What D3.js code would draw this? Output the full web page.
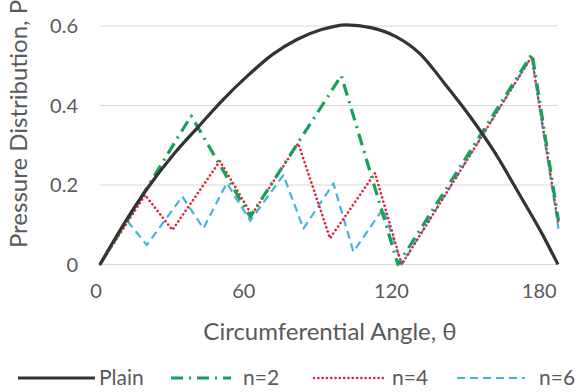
<!DOCTYPE html>
<html>
<head>
<meta charset="utf-8">
<script src="https://cdn.jsdelivr.net/npm/d3@7"></script>
<style>
  body { margin: 0; background: #fff; }
  text { font-family: Lato, "Open Sans", sans-serif; fill: #595959; }
</style>
</head>
<body>
<div class="chart"></div>
<script>
// values (angle in degrees, pressure)
var plainAngle = [0, 10, 20, 30, 40, 50, 60, 70, 80, 90, 100, 110, 120, 130, 140, 150, 160, 170, 180, 186];
var plainP     = [0, 0.105, 0.198, 0.278, 0.347, 0.415, 0.475, 0.528, 0.566, 0.591, 0.603, 0.596, 0.574, 0.53, 0.455, 0.375, 0.285, 0.18, 0.072, 0];

var n2Angle = [0, 37, 61, 98, 121, 175.5, 186.2];
var n2P     = [0, 0.374, 0.12, 0.475, 0, 0.53, 0.11];

var n4Angle = [0, 18.3, 29.4, 48.7, 61.6, 80.5, 93.4, 111.7, 122.5, 175.3, 186.2];
var n4P     = [0, 0.175, 0.087, 0.26, 0.125, 0.305, 0.066, 0.23, 0, 0.523, 0.1];

var n6Angle = [0, 11, 19, 33.4, 42, 51.5, 61, 74.5, 82.6, 94.8, 102.9, 115, 122.5, 175.3, 186.2];
var n6P     = [0, 0.11, 0.049, 0.171, 0.091, 0.205, 0.11, 0.225, 0.09, 0.204, 0.032, 0.141, 0, 0.523, 0.09];

var xTicks = [0, 60, 120, 180];
var yTicks = [0, 0.2, 0.4, 0.6];
var yTickLabels = ["0", "0.2", "0.4", "0.6"];
var seriesNames = ["Plain", "n=2", "n=4", "n=6"];

var width = 577;
var height = 392;
var margin = {left: 100, right: 19, top: 26, bottom: 127.5};

var svg = d3.select("div.chart")
    .append("svg")
    .attr("width", width)
    .attr("height", height);

var x = d3.scaleLinear()
    .domain([0, 186])
    .range([margin.left, width - margin.right]);

var y = d3.scaleLinear()
    .domain([0, 0.6])
    .range([height - margin.bottom, margin.top]);

// gridlines
svg.append("g")
    .selectAll("line")
    .data(yTicks)
    .enter()
    .append("line")
    .attr("x1", x(0))
    .attr("x2", x(186))
    .attr("y1", d => y(d))
    .attr("y2", d => y(d))
    .attr("stroke", "#d9d9d9")
    .attr("stroke-width", 1);

// y tick labels
svg.append("g")
    .selectAll("text")
    .data(yTicks)
    .enter()
    .append("text")
    .attr("x", 78)
    .attr("y", d => y(d))
    .attr("dy", "0.35em")
    .attr("text-anchor", "end")
    .style("font-size", "20px")
    .text((d, i) => yTickLabels[i]);

// x tick labels
svg.append("g")
    .selectAll("text")
    .data(xTicks)
    .enter()
    .append("text")
    .attr("x", d => x(d))
    .attr("dx", -4)
    .attr("y", 298)
    .attr("text-anchor", "middle")
    .style("font-size", "20px")
    .text(d => d);

// axis titles
svg.append("text")
    .attr("x", 330)
    .attr("y", 340)
    .attr("text-anchor", "middle")
    .style("font-size", "24px")
    .text("Circumferential Angle, θ");

svg.append("text")
    .attr("transform", "translate(19,124) rotate(-90)")
    .attr("dy", "0.35em")
    .attr("text-anchor", "middle")
    .style("font-size", "24px")
    .text("Pressure Distribution, P");

function toPoints(angles, values) {
    return angles.map((a, i) => [a, values[i]]);
}

var styles = [
    {color: "#333333", width: 3.2, dash: null, cap: "butt"},
    {color: "#17a05a", width: 3.2, dash: "12,6,2,6", cap: "butt"},
    {color: "#e8213a", width: 2.6, dash: "0.1,4.2", cap: "round"},
    {color: "#45b4dc", width: 2.2, dash: "8,5", cap: "butt"}
];

var series = [
    toPoints(plainAngle, plainP),
    toPoints(n2Angle, n2P),
    toPoints(n4Angle, n4P),
    toPoints(n6Angle, n6P)
];

var straight = d3.line()
    .x(d => x(d[0]))
    .y(d => y(d[1]));

var smooth = d3.line()
    .curve(d3.curveMonotoneX)
    .x(d => x(d[0]))
    .y(d => y(d[1]));

// draw n=6, n=4, n=2 then Plain on top
[3, 2, 1, 0].forEach(function(k) {
    svg.append("path")
        .attr("d", k == 0 ? smooth(series[k]) : straight(series[k]))
        .attr("fill", "none")
        .attr("stroke", styles[k].color)
        .attr("stroke-width", styles[k].width)
        .attr("stroke-dasharray", styles[k].dash)
        .attr("stroke-linecap", styles[k].cap)
        .attr("stroke-linejoin", "round");
});

// legend
var legendX = [[18, 95, 99], [171, 231, 243], [314, 383, 392], [457, 525, 539]];
var legendY = 378;

var legend = svg.append("g")
    .selectAll("g")
    .data(seriesNames)
    .enter()
    .append("g");

legend.append("line")
    .attr("x1", (d, i) => legendX[i][0])
    .attr("x2", (d, i) => legendX[i][1])
    .attr("y1", legendY)
    .attr("y2", legendY)
    .attr("stroke", (d, i) => styles[i].color)
    .attr("stroke-width", (d, i) => styles[i].width)
    .attr("stroke-dasharray", (d, i) => styles[i].dash)
    .attr("stroke-linecap", (d, i) => styles[i].cap);

legend.append("text")
    .attr("x", (d, i) => legendX[i][2])
    .attr("y", legendY)
    .attr("dy", "0.35em")
    .style("font-size", "21px")
    .text(d => d);
</script>
</body>
</html>
